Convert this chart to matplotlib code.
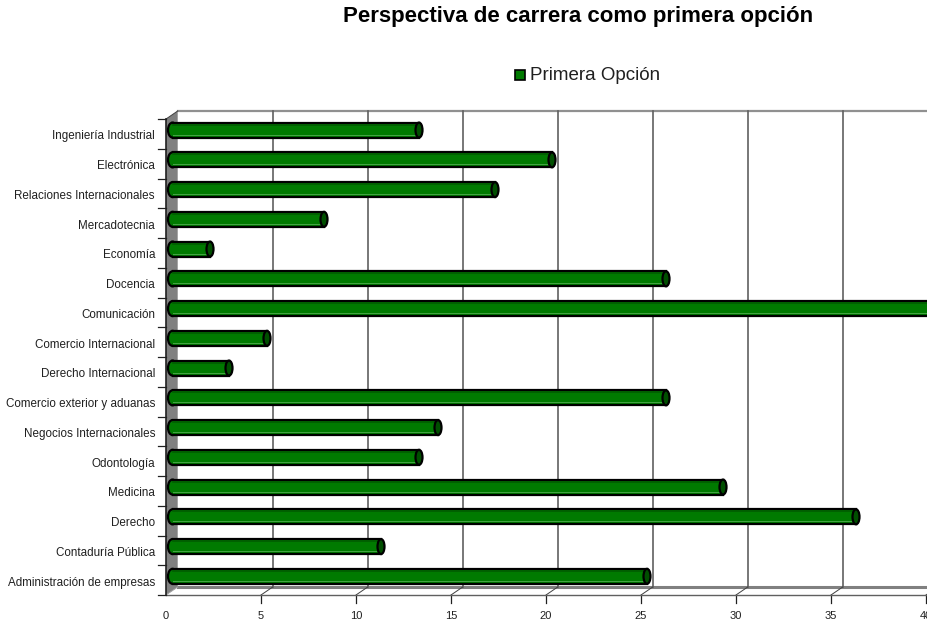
"""
Perspectiva de carrera como primera opcion, fake 3D bar chart
"""
import matplotlib
matplotlib.use("Agg")
import matplotlib.pyplot as plt
from matplotlib.patches import Ellipse, Polygon, Rectangle

plt.rcParams['font.family'] = ['Liberation Sans', 'DejaVu Sans']

carreras = ["Administración de empresas", "Contaduría Pública", "Derecho", "Medicina",
            "Odontología", "Negocios Internacionales", "Comercio exterior y aduanas",
            "Derecho Internacional", "Comercio Internacional", "Comunicación", "Docencia",
            "Economía", "Mercadotecnia", "Relaciones Internacionales", "Electrónica",
            "Ingeniería Industrial"]
valores = [25, 11, 36, 29, 13, 14, 26, 3, 5, 40, 26, 2, 8, 17, 20, 13]
xticks = [0, 5, 10, 15, 20, 25, 30, 35, 40]
leyenda = "Primera Opción"
titulo = "Perspectiva de carrera como primera opción"

W, H = 928, 623
fig = plt.figure(figsize=(W/100, H/100), dpi=100)
ax = fig.add_axes([166/W, (H-595)/H, 760/W, 476/H])
ax.set_xlim(0, 40)
ax.set_ylim(0, 16)
ax.axis("off")

# pixel sizes in data units
px = 40/760
py = 16/476
dx = 11.7*px
dy = 8*py

# walls
ax.add_patch(Polygon([(0, 0), (dx, dy), (dx, 16+dy), (0, 16)], fc="#808080", ec="none", clip_on=False))
ax.plot([dx, 40+dx], [dy, dy], color="#808080", lw=2.2, clip_on=False, zorder=1)
ax.plot([dx, 40+dx], [16+dy, 16+dy], color="#909090", lw=1.6, clip_on=False, zorder=1)
for x in xticks[1:]:
    ax.plot([x+dx, x+dx], [dy, 16+dy], color="#606060", lw=1.2, clip_on=False, zorder=1)
    ax.plot([x, x+dx], [0, dy], color="#404040", lw=0.7, clip_on=False, zorder=1)
    ax.plot([x, x], [0, -8*py], color="#202020", lw=0.9, clip_on=False, zorder=1)

# front axes
ax.plot([0, 40], [0, 0], color="#606060", lw=1.0, clip_on=False, zorder=2)
ax.plot([0, 0], [0, 16], color="#202020", lw=1.2, clip_on=False, zorder=5)
ax.plot([0, dx], [16, 16+dy], color="#404040", lw=0.7, clip_on=False, zorder=2)
ax.plot([0, dx], [0, dy], color="#a0a0a0", lw=0.7, clip_on=False, zorder=2)
for i in range(17):
    ax.plot([0, -8*px], [i, i], color="#202020", lw=0.9, clip_on=False, zorder=2)

# bars
alto = 15*py
for i, (nombre, v) in enumerate(zip(carreras, valores)):
    x0 = 6.5*px
    x1 = v + 6*px
    yc = i + 0.5 + 3.8*py
    ax.add_patch(Ellipse((x0, yc), 9*px, alto, fc="#007a00", ec="black", lw=1.6, clip_on=False, zorder=6))
    ax.add_patch(Rectangle((x0, yc-alto/2), x1-x0, alto, fc="#007a00", ec="none", clip_on=False, zorder=6))
    ax.plot([x0, x1], [yc+alto/2, yc+alto/2], color="black", lw=1.6, clip_on=False, zorder=7)
    ax.plot([x0, x1], [yc-alto/2, yc-alto/2], color="black", lw=1.6, clip_on=False, zorder=7)
    ax.plot([x0, x1], [yc-alto*0.3, yc-alto*0.3], color="#45a545", lw=0.7, clip_on=False, zorder=7)
    ax.plot([x0, x1], [yc+alto*0.36, yc+alto*0.36], color="#005c00", lw=1.2, clip_on=False, zorder=7)
    ax.add_patch(Ellipse((x1, yc), 7*px, alto, fc="#004f00", ec="black", lw=1.6, clip_on=False, zorder=8))
    ax.text(-11*px, i+0.5-2.5*py, nombre, ha="right", va="center", fontsize=8.4, color="#202020",
            clip_on=False)

for x in xticks:
    ax.text(x, -21*py, str(x), ha="center", va="center", fontsize=8.0, color="#202020", clip_on=False)

# legend and title in figure coords
fig.patches.append(Rectangle((515/W, (H-80)/H), 10/W, 10/H, transform=fig.transFigure,
                             fc="#007a00", ec="black", lw=1.2))
fig.text(530/W, (H-80)/H, leyenda, ha="left", va="baseline", fontsize=13.5, color="#202020")
fig.text(578.5/W, (H-22)/H, titulo, ha="center", va="baseline", fontsize=16, fontweight="bold", color="black")

fig.savefig("out.png", dpi=100)
